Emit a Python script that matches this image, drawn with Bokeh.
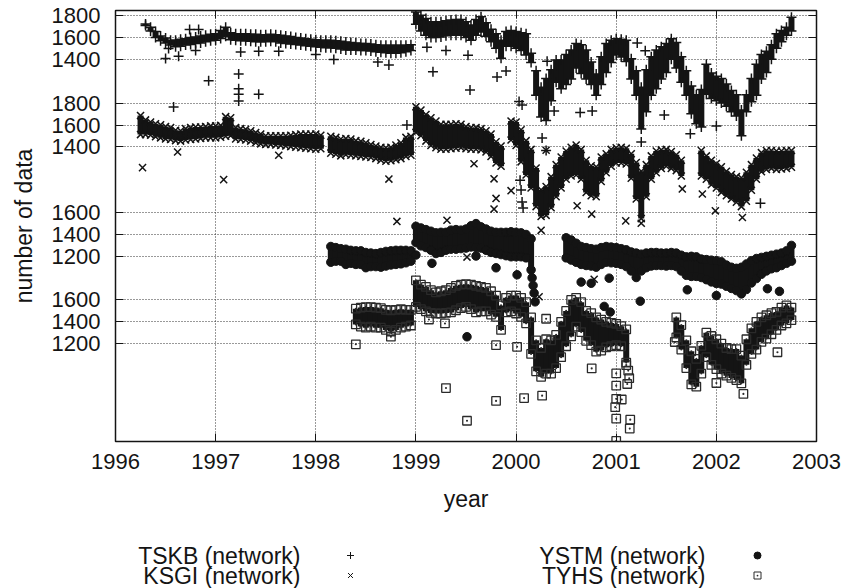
import math
from bokeh.plotting import figure
from bokeh.models import Range1d, FixedTicker, LinearAxis
from bokeh.layouts import column
from bokeh.embed import file_html
from bokeh.resources import INLINE
from bokeh.core.properties import value

NaN = float("nan")

# ---------------- data ----------------
# Each station: regular sampling every STEP years from its start year,
# upper (hi) and lower (lo) envelope of the dense daily cloud, plus outliers.
STEP = 0.05
stations = ["TSKB (network)", "KSGI (network)", "YSTM (network)", "TYHS (network)"]
station_offset = [0, 800, 1600, 2400]   # vertical shift of each station's curve

tskb_start = 1996.30
tskb_hi = [1750, 1720, 1680, 1640, 1620, 1600, 1600, 1610, 1615, 1625,
           1630, 1640, 1645, 1655, 1660, 1690, 1720, 1670, 1660, 1660,
           1660, 1655, 1655, 1650, 1650, 1655, 1650, 1645, 1640, 1635,
           1625, 1620, 1615, 1610, 1605, 1600, 1600, 1600, 1595, 1590,
           1585, 1580, 1575, 1570, 1570, 1565, 1560, 1555, 1555, 1555,
           1555, 1555, 1555, 1560, 1860, 1830, 1800, 1770, 1770, 1770,
           1780, 1785, 1790, 1790, 1770, 1740, 1790, 1815, 1760, 1700,
           1660, 1600, 1680, 1690, 1680, 1670, 1660, 1480, 1320, 1170,
           1250, 1330, 1420, 1420, 1470, 1510, 1570, 1560, 1510, 1400,
           1290, 1450, 1570, 1600, 1615, 1610, 1600, 1430, 1320, 1170,
           1330, 1450, 1510, 1540, 1570, 1615, 1580, 1450, 1320, 1180,
           1100, 1150, 1380, 1300, 1270, 1250, 1200, 1140, 1100, 960,
           1100, 1250, 1380, 1470, 1500, 1560, 1660, 1690, 1720, 1810]
tskb_lo = [1690, 1640, 1580, 1550, 1530, 1510, 1495, 1500, 1510, 1515,
           1525, 1530, 1540, 1550, 1555, 1570, 1590, 1560, 1555, 1550,
           1550, 1545, 1540, 1540, 1540, 1545, 1540, 1530, 1525, 1520,
           1515, 1510, 1505, 1500, 1495, 1490, 1485, 1485, 1480, 1475,
           1465, 1465, 1465, 1460, 1460, 1455, 1450, 1445, 1440, 1435,
           1435, 1440, 1450, 1460, 1700, 1640, 1600, 1580, 1580, 1585,
           1595, 1600, 1600, 1600, 1580, 1555, 1600, 1630, 1590, 1540,
           1480, 1390, 1500, 1500, 1480, 1460, 1420, 1350, 1050, 850,
           820, 1000, 1170, 1110, 1150, 1200, 1300, 1250, 1200, 1150,
           1050, 1150, 1260, 1350, 1420, 1400, 1360, 1200, 1050, 740,
           900, 1050, 1110, 1200, 1260, 1380, 1300, 1170, 1050, 880,
           790, 760, 1060, 1020, 1000, 980, 950, 900, 860, 680,
           900, 990, 1050, 1200, 1260, 1380, 1480, 1540, 1600, 1640]
tskb_out = [(1996.50, 1409), (1996.53, 1501), (1996.58, 966), (1996.63, 1431),
            (1996.74, 1677), (1996.80, 1483), (1996.83, 1677), (1996.93, 1206),
            (1997.23, 1267), (1997.23, 1132), (1997.23, 1083), (1997.23, 1021),
            (1997.25, 1470), (1997.43, 1083), (1997.43, 1477), (1997.63, 1477),
            (1998.00, 1446), (1998.18, 1400), (1998.62, 1378), (1998.73, 1350),
            (1998.91, 800), (1999.11, 1514), (1999.17, 1289), (1999.30, 1483),
            (1999.52, 1440), (1999.54, 1121), (1999.81, 1240), (1999.90, 1295),
            (2000.03, 1015), (2000.06, 984), (2000.04, 295), (2000.05, 204),
            (2000.06, 94), (2000.07, 39), (2000.26, 682), (2000.30, 568),
            (2000.31, 1384), (2000.38, 929), (2000.64, 915), (2000.76, 928),
            (2001.21, 1552), (2001.25, 645), (2001.29, 1480), (2001.48, 892),
            (2001.74, 720), (2002.00, 792), (2002.44, 84)]

ksgi_start = 1996.25
ksgi_hi = [1710, 1670, 1650, 1635, 1625, 1610, 1600, 1575, 1570, 1590,
           1600, 1605, 1605, 1610, 1615, 1615, 1620, 1700, 1690, 1600,
           1590, 1585, 1570, 1555, 1540, 1525, 1525, 1525, 1525, 1525,
           1530, 1535, 1540, 1540, 1540, 1540, 1530, NaN, 1520, 1510,
           1495, 1500, 1495, 1480, 1475, 1460, 1445, 1430, 1420, 1415,
           1420, 1440, 1460, 1510, 1520, 1790, 1760, 1720, 1690, 1660,
           1630, 1630, 1630, 1635, 1630, 1610, 1600, 1600, 1590, 1570,
           1540, 1470, 1430, NaN, 1660, 1650, 1580, 1480, 1400, 1230,
           1030, 1060, 1150, 1260, 1330, 1385, 1420, 1440, 1400, 1300,
           1250, 1240, 1330, 1360, 1400, 1415, 1420, 1410, 1360, 1280,
           1200, 1260, 1340, 1385, 1395, 1400, 1380, 1350, 1300, NaN,
           NaN, NaN, 1390, 1340, 1300, 1270, 1240, 1200, 1170, 1150,
           1140, 1190, 1260, 1320, 1370, 1390, 1390, 1385, 1385, 1390,
           1390]
ksgi_lo = [1490, 1490, 1485, 1470, 1460, 1450, 1445, 1435, 1430, 1440,
           1445, 1450, 1455, 1460, 1460, 1460, 1465, 1475, 1480, 1450,
           1445, 1440, 1430, 1415, 1405, 1400, 1400, 1395, 1390, 1385,
           1380, 1375, 1370, 1365, 1360, 1355, 1360, NaN, 1320, 1310,
           1295, 1305, 1300, 1295, 1290, 1285, 1280, 1270, 1255, 1245,
           1250, 1260, 1270, 1290, 1300, 1510, 1480, 1430, 1390, 1370,
           1355, 1355, 1360, 1365, 1370, 1360, 1355, 1355, 1350, 1330,
           1290, 1230, 1200, NaN, 1440, 1390, 1240, 1120, 1000, 830,
           740, 750, 820, 920, 1000, 1080, 1110, 1120, 1080, 960,
           930, 920, 1060, 1140, 1200, 1230, 1230, 1220, 1090, 900,
           720, 920, 1080, 1140, 1180, 1200, 1180, 1160, 1110, NaN,
           NaN, NaN, 1110, 1080, 1030, 1000, 960, 930, 900, 870,
           830, 880, 980, 1080, 1150, 1170, 1180, 1170, 1175, 1180,
           1190]
ksgi_out = [(1996.27, 1210), (1997.08, 1100), (1996.62, 1353), (1997.63, 1323),
            (1998.73, 1105), (1998.81, 717), (1999.31, 728), (1999.58, 1246),
            (1999.78, 1107), (1999.80, 928), (1999.78, 830), (1999.95, 999),
            (2000.30, 1369), (2000.61, 861), (2000.755, 784), (2001.095, 722),
            (2001.66, 1015), (2001.86, 968), (2001.99, 814), (2002.26, 753),
            (1999.51, 390), (2000.25, 635), (2000.23, 27), (2000.78, 187),
            (2001.25, 700)]

ystm_start = 1998.15
ystm_hi = [1310, 1300, 1290, 1285, 1275, 1270, 1270, 1255, 1250, 1245,
           1255, 1265, 1270, 1275, 1275, 1275, 1270, 1495, 1480, 1465,
           1450, 1435, 1440, 1440, 1460, 1465, 1460, 1470, 1500, 1520,
           1490, 1470, 1450, 1440, 1440, 1440, 1445, 1440, 1435, 1420,
           1380, NaN, NaN, NaN, NaN, NaN, NaN, 1390, 1370, 1340,
           1310, 1300, 1290, 1285, 1300, 1310, 1305, 1300, 1290, 1280,
           1260, 1250, 1240, 1250, 1255, 1255, 1250, 1250, 1255, 1250,
           1230, 1215, 1220, 1215, 1195, 1190, 1185, 1180, 1170, 1140,
           1120, 1110, 1120, 1150, 1180, 1200, 1210, 1220, 1230, 1240,
           1250, 1270, 1320]
ystm_lo = [1120, 1130, 1130, 1100, 1110, 1100, 1100, 1070, 1080, 1080,
           1075, 1085, 1095, 1100, 1105, 1115, 1130, 1300, 1270, 1255,
           1230, 1200, 1210, 1230, 1240, 1240, 1245, 1250, 1260, 1255,
           1250, 1230, 1210, 1200, 1190, 1180, 1170, 1170, 1170, 1160,
           1050, NaN, NaN, NaN, NaN, NaN, NaN, 1160, 1140, 1120,
           1100, 1090, 1085, 1075, 1100, 1120, 1115, 1110, 1100, 1080,
           1040, 980, 1040, 1070, 1085, 1090, 1090, 1085, 1090, 1080,
           1040, 1000, 990, 990, 980, 960, 940, 925, 920, 900,
           880, 860, 830, 870, 930, 970, 1010, 1040, 1060, 1070,
           1090, 1110, 1130]
ystm_out = [(1999.00, 1209), (1999.16, 1133), (1999.60, 1200), (1999.80, 1092),
            (2000.01, 1028), (1999.51, 460), (2000.16, 1000), (2000.17, 930),
            (2000.18, 860), (2000.19, 780), (2000.65, 961), (2000.75, 950),
            (2000.93, 997), (2000.88, 738), (2000.94, 686), (2001.24, 786),
            (2001.71, 890), (2002.00, 838), (2002.51, 900), (2002.63, 876)]

tyhs_start = 1998.40
tyhs_hi = [1540, 1550, 1555, 1555, 1550, 1545, 1530, 1525, 1530, 1535,
           1530, 1530, 1800, 1760, 1740, 1710, 1690, 1700, 1710, 1730,
           1750, 1760, 1765, 1760, 1750, 1740, 1730, 1700, 1660, 1570,
           1640, 1660, 1660, 1640, 1600, 1460, 1250, 1180, 1260, 1250,
           1300, 1420, 1520, 1620, 1640, 1600, 1520, 1500, 1460, 1440,
           1420, 1410, 1400, 1380, 1350, NaN, NaN, NaN, NaN, NaN,
           NaN, NaN, NaN, NaN, 1460, 1390, 1250, 1150, 1080, 1200,
           1320, 1290, 1260, 1220, 1180, 1170, 1170, 1110, 1260, 1360,
           1420, 1460, 1480, 1500, 1510, 1550, 1570, 1550]
tyhs_lo = [1350, 1330, 1320, 1330, 1320, 1320, 1300, 1285, 1300, 1320,
           1330, 1340, 1510, 1490, 1470, 1455, 1450, 1450, 1455, 1460,
           1480, 1500, 1510, 1490, 1460, 1470, 1470, 1440, 1420, 1300,
           1460, 1470, 1450, 1420, 1360, 1080, 920, 870, 900, 900,
           950, 1050, 1150, 1240, 1330, 1280, 1200, 1160, 1100, 1110,
           1140, 1150, 1160, 1150, 1000, NaN, NaN, NaN, NaN, NaN,
           NaN, NaN, NaN, NaN, 1230, 1120, 950, 800, 780, 900,
           1050, 980, 940, 900, 880, 860, 840, 810, 980, 1080,
           1120, 1190, 1220, 1260, 1300, 1340, 1360, 1390]
tyhs_out = [(1998.40, 1191), (1998.75, 1261), (1999.13, 1418), (1999.29, 1382),
            (1999.30, 790), (1999.51, 490), (1999.80, 672), (1999.80, 1183),
            (2000.01, 1168), (2000.08, 698), (2000.26, 720), (2000.30, 1425),
            (2000.755, 970), (2001.00, 924), (2001.00, 812), (2001.00, 691),
            (2000.99, 615), (2001.00, 509), (2001.055, 685), (2001.14, 500),
            (2001.135, 418), (2001.00, 305), (2001.11, 827), (2001.10, 1000),
            (2001.12, 950), (2001.13, 880), (2002.61, 1118), (2002.27, 736),
            (2002.00, 836), (2001.585, 1212)]

x_ticks = [1996, 1997, 1998, 1999, 2000, 2001, 2002, 2003]
# y tick labels of every station (shown at label - offset)
y_tick_labels = [[1800, 1600, 1400], [1800, 1600, 1400], [1600, 1400, 1200], [1600, 1400, 1200]]

# ---------------- styling / layout ----------------
INK = "#141414"
FONT = "Liberation Sans"
W, H_MAIN, H_LEG = 842, 520, 68
B_LEFT, B_RIGHT, B_TOP, B_BOTTOM = 115, 26, 10, 79
Y0, Y1 = -2100, 1850
X0, X1 = 1996, 2003

p = figure(width=W, height=H_MAIN, x_range=Range1d(X0, X1), y_range=Range1d(Y0, Y1),
           output_backend="svg", toolbar_location=None,
           min_border_left=B_LEFT, min_border_right=B_RIGHT,
           min_border_top=B_TOP, min_border_bottom=B_BOTTOM)
p.outline_line_color = INK
p.outline_line_width = 1.5

yt, ylab = [], {}
for k, labs in enumerate(y_tick_labels):
    for lv in labs:
        pos = lv - station_offset[k]
        yt.append(pos)
        ylab[pos] = str(lv)
xticker = FixedTicker(ticks=x_ticks)
yticker = FixedTicker(ticks=yt)

for ax in (p.xaxis[0], p.yaxis[0]):
    ax.axis_line_color = None
    ax.major_tick_in = 8
    ax.major_tick_out = 0
    ax.minor_tick_in = 0
    ax.minor_tick_out = 0
    ax.major_tick_line_color = INK
    ax.major_label_text_font = FONT
    ax.major_label_text_font_size = "22px"
    ax.major_label_text_color = INK
    ax.axis_label_text_font = FONT
    ax.axis_label_text_font_size = "23px"
    ax.axis_label_text_font_style = "normal"
    ax.axis_label_text_color = INK
p.xaxis.ticker = xticker
p.xaxis.major_label_overrides = {t: str(t) for t in x_ticks}
p.xaxis.major_label_standoff = 12
p.xaxis.axis_label = "year"
p.xaxis.axis_label_standoff = 14
p.yaxis.ticker = yticker
p.yaxis.major_label_overrides = ylab
p.yaxis.major_label_standoff = 15
p.yaxis.axis_label = "number of data"
p.yaxis.axis_label_standoff = 12

# mirrored inner ticks on right and top
for loc, tk, ticks in (("right", yticker, yt), ("above", xticker, x_ticks)):
    ax = LinearAxis(ticker=tk, major_tick_in=8, major_tick_out=0, minor_tick_in=0,
                    minor_tick_out=0, axis_line_color=None, major_tick_line_color=INK,
                    major_label_standoff=0, major_label_text_font_size="1px",
                    major_label_overrides={t: "" for t in ticks})
    p.add_layout(ax, loc)

p.xgrid.ticker = xticker
p.ygrid.ticker = yticker
for g in (p.xgrid[0], p.ygrid[0]):
    g.grid_line_color = "#333333"
    g.grid_line_dash = "1 2"
    g.grid_line_width = 1

# marker inset so that the markers sit just inside the envelope
px_per_unit = (H_MAIN - B_TOP - B_BOTTOM) / (Y1 - Y0)
INSET = 2.5 / px_per_unit

def series_xy(start, hi, lo, off):
    t = [round(start + STEP * i, 3) for i in range(len(hi))]
    mh, ml = [], []
    for h, l in zip(hi, lo):
        if math.isnan(h):
            mh.append(NaN); ml.append(NaN); continue
        h, l = h - off, l - off
        mid = (h + l) / 2
        mh.append(max(h - INSET, mid))
        ml.append(min(l + INSET, mid))
    return t, mh, ml

marker_style = [
    dict(marker="cross", size=10, line_color=INK, line_width=1.5),
    dict(marker="x", size=10, line_color=INK, line_width=1.5),
    dict(marker="circle", size=8.5, line_color=INK, fill_color=INK),
    dict(marker="square_dot", size=8.5, line_color="#2a2a2a", fill_color=None, line_width=1.3),
]
data = [(tskb_start, tskb_hi, tskb_lo, tskb_out),
        (ksgi_start, ksgi_hi, ksgi_lo, ksgi_out),
        (ystm_start, ystm_hi, ystm_lo, ystm_out),
        (tyhs_start, tyhs_hi, tyhs_lo, tyhs_out)]

for k, (start, hi, lo, out) in enumerate(data):
    off = station_offset[k]
    t, mh, ml = series_xy(start, hi, lo, off)
    # dense core of the daily cloud between the outer marker rows
    p.segment(x0=t, y0=ml, x1=t, y1=mh, line_width=6, line_color=INK)
    p.scatter(t, mh, **marker_style[k])
    p.scatter(t, ml, **marker_style[k])
    ot = [a for a, b in out]
    ov = [b - off for a, b in out]
    p.scatter(ot, ov, **marker_style[k])

# ---------------- legend (below the plot) ----------------
# the legend figure's frame is aligned with the plot frame; its data units are page pixels
lg = figure(width=W, height=H_LEG, x_range=Range1d(B_LEFT, W - B_RIGHT), y_range=Range1d(H_LEG, 0),
            output_backend="svg", toolbar_location=None,
            min_border_left=B_LEFT, min_border_right=B_RIGHT, min_border_top=0, min_border_bottom=0,
            x_axis_location=None, y_axis_location=None)
lg.grid.visible = False
lg.outline_line_color = None
leg_text_x = [300, 300, 705, 705]
leg_sym_x = [350, 350, 757, 757]
leg_y = [35, 55, 35, 55]
lg.text(x=leg_text_x, y=leg_y, text=stations, text_align="right", text_baseline="middle",
        text_font=value(FONT), text_font_size="23px", text_color=INK)
leg_marker = [
    dict(marker="cross", size=7, line_color=INK, line_width=1),
    dict(marker="x", size=7, line_color=INK, line_width=1),
    dict(marker="circle", size=7, line_color=INK, fill_color=INK),
    dict(marker="square_dot", size=7, line_color="#2a2a2a", fill_color=None, line_width=1),
]
for k in range(4):
    lg.scatter([leg_sym_x[k]], [leg_y[k]], **leg_marker[k])

layout = column(p, lg, spacing=0)
open("out.html", "w").write(file_html(layout, INLINE))
